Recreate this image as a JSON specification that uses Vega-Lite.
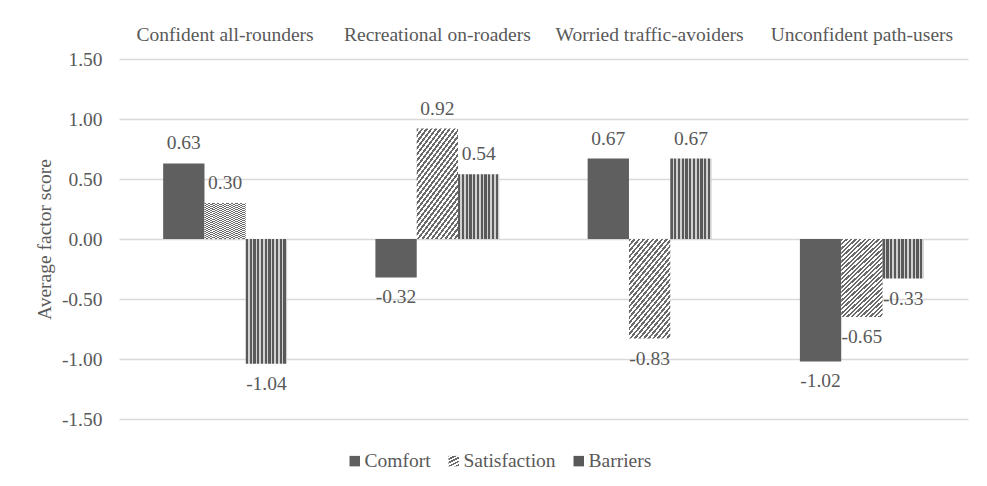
{
  "$schema": "https://vega.github.io/schema/vega-lite/v6.json",
  "width": 849,
  "height": 360,
  "autosize": {"type": "none"},
  "padding": {"left": 119, "top": 59, "right": 19, "bottom": 67},
  "background": "white",
  "config": {
    "locale": {"number": {"decimal": ".", "thousands": ",", "grouping": [3], "currency": ["$", ""], "minus": "-"}},
    "view": {"stroke": null},
    "font": "Liberation Serif"
  },
  "data": {
    "values": [
      {"group": "Confident all-rounders", "series": "Comfort", "value": 0.63},
      {"group": "Confident all-rounders", "series": "Satisfaction", "value": 0.30},
      {"group": "Confident all-rounders", "series": "Barriers", "value": -1.04},
      {"group": "Recreational on-roaders", "series": "Comfort", "value": -0.32},
      {"group": "Recreational on-roaders", "series": "Satisfaction", "value": 0.92},
      {"group": "Recreational on-roaders", "series": "Barriers", "value": 0.54},
      {"group": "Worried traffic-avoiders", "series": "Comfort", "value": 0.67},
      {"group": "Worried traffic-avoiders", "series": "Satisfaction", "value": -0.83},
      {"group": "Worried traffic-avoiders", "series": "Barriers", "value": 0.67},
      {"group": "Unconfident path-users", "series": "Comfort", "value": -1.02},
      {"group": "Unconfident path-users", "series": "Satisfaction", "value": -0.65},
      {"group": "Unconfident path-users", "series": "Barriers", "value": -0.33}
    ]
  },
  "encoding": {
    "x": {
      "field": "group",
      "type": "nominal",
      "sort": ["Confident all-rounders", "Recreational on-roaders", "Worried traffic-avoiders", "Unconfident path-users"],
      "scale": {"paddingInner": 0.416, "paddingOuter": 0.208},
      "axis": {
        "orient": "top",
        "title": null,
        "domain": false,
        "ticks": false,
        "tickSize": 0,
        "labelPadding": 15,
        "labelAngle": 0,
        "labelLimit": 0,
        "labelFont": "Liberation Serif",
        "labelFontSize": 19.5,
        "labelColor": "#595959"
      }
    },
    "xOffset": {
      "field": "series",
      "type": "nominal",
      "sort": ["Comfort", "Satisfaction", "Barriers"],
      "scale": {"paddingInner": 0, "paddingOuter": 0}
    },
    "y": {
      "field": "value",
      "type": "quantitative",
      "scale": {"domain": [-1.5, 1.5], "nice": false, "zero": true},
      "axis": {
        "values": [-1.5, -1, -0.5, 0, 0.5, 1, 1.5],
        "format": ".2f",
        "title": "Average factor score",
        "titleFont": "Liberation Serif",
        "titleFontSize": 19.5,
        "titleFontWeight": "normal",
        "titleColor": "#595959",
        "titlePadding": 7,
        "domain": false,
        "ticks": false,
        "tickSize": 0,
        "labelPadding": 17,
        "labelFont": "Liberation Serif",
        "labelFontSize": 19.5,
        "labelColor": "#595959",
        "grid": true,
        "gridColor": "#d9d9d9",
        "gridWidth": 1.5
      }
    }
  },
  "layer": [
    {
      "mark": {"type": "bar", "strokeWidth": 0},
      "encoding": {
        "color": {
          "field": "series",
          "type": "nominal",
          "sort": ["Comfort", "Satisfaction", "Barriers"],
          "scale": {
            "domain": ["Comfort", "Satisfaction", "Barriers"],
            "range": [
              "#5f5f5f",
              {"expr": "{gradient:'linear',x1:0,y1:0,x2:1,y2:2,stops:[{offset:0,color:'#6a6a6a'},{offset:0.0111,color:'#6a6a6a'},{offset:0.0111,color:'#fff'},{offset:0.0222,color:'#fff'},{offset:0.0222,color:'#6a6a6a'},{offset:0.0333,color:'#6a6a6a'},{offset:0.0333,color:'#fff'},{offset:0.0444,color:'#fff'},{offset:0.0444,color:'#6a6a6a'},{offset:0.0556,color:'#6a6a6a'},{offset:0.0556,color:'#fff'},{offset:0.0667,color:'#fff'},{offset:0.0667,color:'#6a6a6a'},{offset:0.0778,color:'#6a6a6a'},{offset:0.0778,color:'#fff'},{offset:0.0889,color:'#fff'},{offset:0.0889,color:'#6a6a6a'},{offset:0.1,color:'#6a6a6a'},{offset:0.1,color:'#fff'},{offset:0.1111,color:'#fff'},{offset:0.1111,color:'#6a6a6a'},{offset:0.1222,color:'#6a6a6a'},{offset:0.1222,color:'#fff'},{offset:0.1333,color:'#fff'},{offset:0.1333,color:'#6a6a6a'},{offset:0.1444,color:'#6a6a6a'},{offset:0.1444,color:'#fff'},{offset:0.1556,color:'#fff'},{offset:0.1556,color:'#6a6a6a'},{offset:0.1667,color:'#6a6a6a'},{offset:0.1667,color:'#fff'},{offset:0.1778,color:'#fff'},{offset:0.1778,color:'#6a6a6a'},{offset:0.1889,color:'#6a6a6a'},{offset:0.1889,color:'#fff'},{offset:0.2,color:'#fff'},{offset:0.2,color:'#6a6a6a'},{offset:0.2111,color:'#6a6a6a'},{offset:0.2111,color:'#fff'},{offset:0.2222,color:'#fff'},{offset:0.2222,color:'#6a6a6a'},{offset:0.2333,color:'#6a6a6a'},{offset:0.2333,color:'#fff'},{offset:0.2444,color:'#fff'},{offset:0.2444,color:'#6a6a6a'},{offset:0.2556,color:'#6a6a6a'},{offset:0.2556,color:'#fff'},{offset:0.2667,color:'#fff'},{offset:0.2667,color:'#6a6a6a'},{offset:0.2778,color:'#6a6a6a'},{offset:0.2778,color:'#fff'},{offset:0.2889,color:'#fff'},{offset:0.2889,color:'#6a6a6a'},{offset:0.3,color:'#6a6a6a'},{offset:0.3,color:'#fff'},{offset:0.3111,color:'#fff'},{offset:0.3111,color:'#6a6a6a'},{offset:0.3222,color:'#6a6a6a'},{offset:0.3222,color:'#fff'},{offset:0.3333,color:'#fff'},{offset:0.3333,color:'#6a6a6a'},{offset:0.3444,color:'#6a6a6a'},{offset:0.3444,color:'#fff'},{offset:0.3556,color:'#fff'},{offset:0.3556,color:'#6a6a6a'},{offset:0.3667,color:'#6a6a6a'},{offset:0.3667,color:'#fff'},{offset:0.3778,color:'#fff'},{offset:0.3778,color:'#6a6a6a'},{offset:0.3889,color:'#6a6a6a'},{offset:0.3889,color:'#fff'},{offset:0.4,color:'#fff'},{offset:0.4,color:'#6a6a6a'},{offset:0.4111,color:'#6a6a6a'},{offset:0.4111,color:'#fff'},{offset:0.4222,color:'#fff'},{offset:0.4222,color:'#6a6a6a'},{offset:0.4333,color:'#6a6a6a'},{offset:0.4333,color:'#fff'},{offset:0.4444,color:'#fff'},{offset:0.4444,color:'#6a6a6a'},{offset:0.4556,color:'#6a6a6a'},{offset:0.4556,color:'#fff'},{offset:0.4667,color:'#fff'},{offset:0.4667,color:'#6a6a6a'},{offset:0.4778,color:'#6a6a6a'},{offset:0.4778,color:'#fff'},{offset:0.4889,color:'#fff'},{offset:0.4889,color:'#6a6a6a'},{offset:0.5,color:'#6a6a6a'},{offset:0.5,color:'#fff'},{offset:0.5111,color:'#fff'},{offset:0.5111,color:'#6a6a6a'},{offset:0.5222,color:'#6a6a6a'},{offset:0.5222,color:'#fff'},{offset:0.5333,color:'#fff'},{offset:0.5333,color:'#6a6a6a'},{offset:0.5444,color:'#6a6a6a'},{offset:0.5444,color:'#fff'},{offset:0.5556,color:'#fff'},{offset:0.5556,color:'#6a6a6a'},{offset:0.5667,color:'#6a6a6a'},{offset:0.5667,color:'#fff'},{offset:0.5778,color:'#fff'},{offset:0.5778,color:'#6a6a6a'},{offset:0.5889,color:'#6a6a6a'},{offset:0.5889,color:'#fff'},{offset:0.6,color:'#fff'},{offset:0.6,color:'#6a6a6a'},{offset:0.6111,color:'#6a6a6a'},{offset:0.6111,color:'#fff'},{offset:0.6222,color:'#fff'}]}"},
              {"expr": "{gradient:'linear',x1:0,y1:0,x2:1,y2:0,stops:[{offset:0,color:'#595959'},{offset:0.0545,color:'#595959'},{offset:0.0545,color:'#d0d0d0'},{offset:0.0909,color:'#d0d0d0'},{offset:0.0909,color:'#595959'},{offset:0.1455,color:'#595959'},{offset:0.1455,color:'#d0d0d0'},{offset:0.1818,color:'#d0d0d0'},{offset:0.1818,color:'#595959'},{offset:0.2364,color:'#595959'},{offset:0.2364,color:'#d0d0d0'},{offset:0.2727,color:'#d0d0d0'},{offset:0.2727,color:'#595959'},{offset:0.3273,color:'#595959'},{offset:0.3273,color:'#d0d0d0'},{offset:0.3636,color:'#d0d0d0'},{offset:0.3636,color:'#595959'},{offset:0.4182,color:'#595959'},{offset:0.4182,color:'#d0d0d0'},{offset:0.4545,color:'#d0d0d0'},{offset:0.4545,color:'#595959'},{offset:0.5091,color:'#595959'},{offset:0.5091,color:'#d0d0d0'},{offset:0.5455,color:'#d0d0d0'},{offset:0.5455,color:'#595959'},{offset:0.6,color:'#595959'},{offset:0.6,color:'#d0d0d0'},{offset:0.6364,color:'#d0d0d0'},{offset:0.6364,color:'#595959'},{offset:0.6909,color:'#595959'},{offset:0.6909,color:'#d0d0d0'},{offset:0.7273,color:'#d0d0d0'},{offset:0.7273,color:'#595959'},{offset:0.7818,color:'#595959'},{offset:0.7818,color:'#d0d0d0'},{offset:0.8182,color:'#d0d0d0'},{offset:0.8182,color:'#595959'},{offset:0.8727,color:'#595959'},{offset:0.8727,color:'#d0d0d0'},{offset:0.9091,color:'#d0d0d0'},{offset:0.9091,color:'#595959'},{offset:0.9636,color:'#595959'},{offset:0.9636,color:'#d0d0d0'},{offset:1,color:'#d0d0d0'}]}"}
            ]
          },
          "legend": {
            "orient": "none",
            "legendX": 226,
            "legendY": 392,
            "direction": "horizontal",
            "title": null,
            "symbolType": "square",
            "symbolSize": 110,
            "symbolStrokeWidth": 0,
            "labelFont": "Liberation Serif",
            "labelFontSize": 19.5,
            "labelColor": "#595959",
            "labelOffset": 0,
            "columnPadding": 13
          }
        }
      }
    },
    {
      "transform": [{"filter": "datum.value >= 0"}],
      "mark": {"type": "text", "dy": -20, "baseline": "middle", "font": "Liberation Serif", "fontSize": 19.5, "color": "#595959"},
      "encoding": {"text": {"field": "value", "type": "quantitative", "format": ".2f"}}
    },
    {
      "transform": [{"filter": "datum.value < 0"}],
      "mark": {"type": "text", "dy": 20, "baseline": "middle", "font": "Liberation Serif", "fontSize": 19.5, "color": "#595959"},
      "encoding": {"text": {"field": "value", "type": "quantitative", "format": ".2f"}}
    }
  ]
}
